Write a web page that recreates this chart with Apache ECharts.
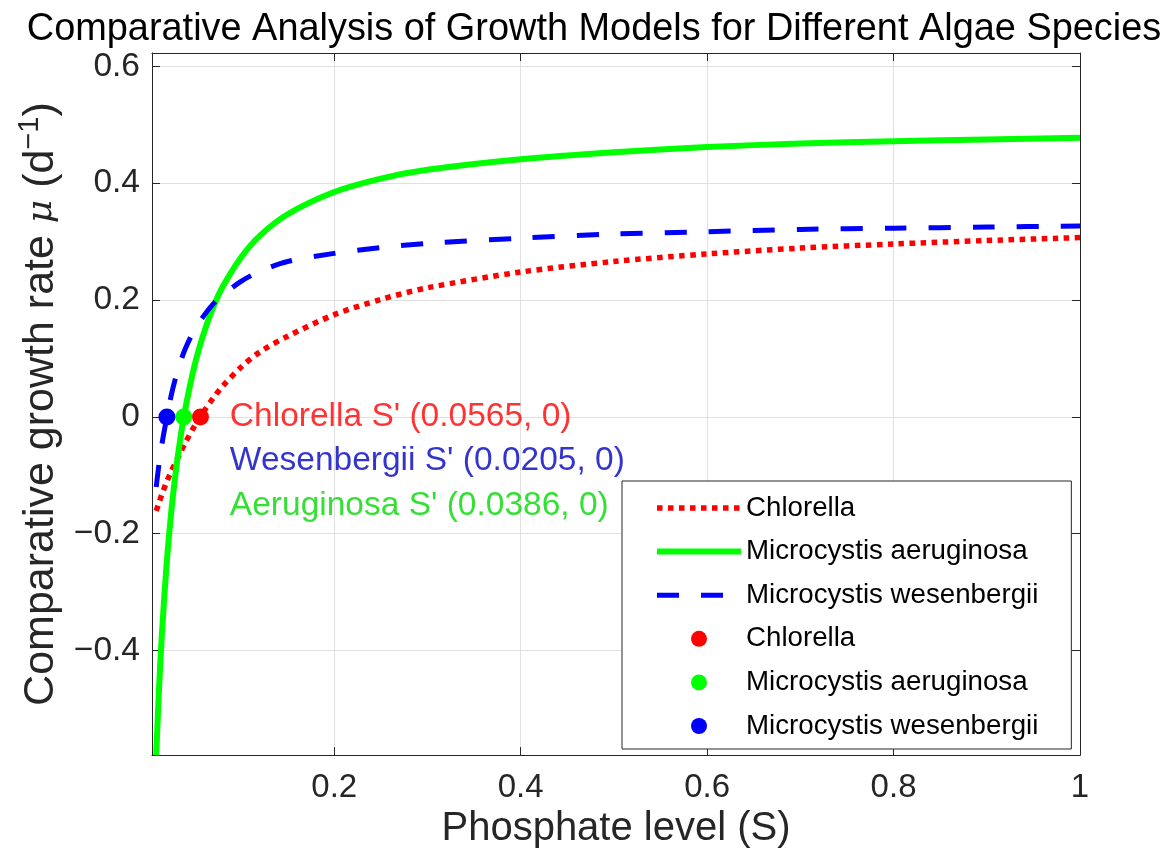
<!DOCTYPE html>
<html>
<head>
<meta charset="utf-8">
<script src="https://cdn.jsdelivr.net/npm/echarts@6/dist/echarts.min.js"></script>
<style>
html,body{margin:0;padding:0;background:#fff;}
#chart{width:1171px;height:854px;}
</style>
</head>
<body>
<div id="chart"></div>
<script>
// Phosphate level S (x values)
const S = [0.009, 0.012, 0.015, 0.02, 0.025, 0.03, 0.035, 0.04, 0.05, 0.06, 0.07, 0.08, 0.1, 0.12, 0.15, 0.2, 0.25, 0.3, 0.4, 0.5, 0.6, 0.7, 0.8, 0.9, 1.0];
// Comparative growth rate
const chlorella = [-0.161, -0.147, -0.133, -0.112, -0.094, -0.077, -0.061, -0.045, -0.016, 0.009, 0.032, 0.052, 0.085, 0.111, 0.138, 0.175, 0.201, 0.221, 0.248, 0.266, 0.279, 0.289, 0.296, 0.302, 0.307];
const aeruginosa = [-0.579, -0.467, -0.375, -0.256, -0.165, -0.094, -0.036, 0.012, 0.087, 0.143, 0.187, 0.222, 0.273, 0.31, 0.347, 0.385, 0.408, 0.423, 0.441, 0.453, 0.462, 0.468, 0.472, 0.475, 0.478];
const wesenbergii = [-0.120, -0.081, -0.048, -0.004, 0.036, 0.068, 0.094, 0.116, 0.149, 0.173, 0.193, 0.208, 0.232, 0.249, 0.266, 0.280, 0.290, 0.297, 0.306, 0.313, 0.317, 0.321, 0.323, 0.325, 0.327];
// Threshold points S'
const thresholdNames = ['Chlorella', 'Microcystis aeruginosa', 'Microcystis wesenbergii'];
const thresholdS = [0.0565, 0.0386, 0.0205];
const thresholdMu = [0, 0, 0];
// Annotations
const annotTexts = ["Chlorella S' (0.0565, 0)", "Wesenbergii S' (0.0205, 0)", "Aeruginosa S' (0.0386, 0)"];
const annotX = [0.0875, 0.0875, 0.0875];
const annotY = [0, -0.075, -0.152];
const annotColors = ['#ff0000', '#0000c0', '#00d800'];
// Axis ranges
const xMin = 0.0045, xMax = 1.0;
const yMin = -0.579, yMax = 0.623;

const FONT = 'Liberation Sans, Arial, Helvetica, sans-serif';
const AX = '#262626';

function fmt(v) {
  const k = Math.round(v / 0.2);
  if (Math.abs(v - k * 0.2) > 1e-6) return '';
  const r = Math.round(k * 0.2 * 10) / 10;
  if (r === 0) return '0';
  const s = String(Math.abs(r));
  return r < 0 ? '\u2212' + s : s;
}

const pairs = (ys) => S.map((x, i) => [x, ys[i]]);

const chart = echarts.init(document.getElementById('chart'), null, {renderer: 'canvas'});
const hiddenDot = {opacity: 0};
const option = {
  animation: false,
  backgroundColor: '#fff',
  title: {
    text: 'Comparative Analysis of Growth Models for Different Algae Species',
    left: 589, top: 5, textAlign: 'center',
    textStyle: {fontFamily: FONT, fontSize: 37.9, fontWeight: 'normal', color: '#000', lineHeight: 40}
  },
  grid: {left: 152, right: 91, top: 53, bottom: 95, containLabel: false},
  legend: {
    orient: 'vertical',
    left: 622, top: 481,
    padding: [12, 33, 8, 32],
    itemWidth: 84, itemHeight: 16, itemGap: 13.6,
    borderColor: AX, borderWidth: 1, backgroundColor: '#fff',
    selectedMode: false,
    lineStyle: {width: 'inherit'},
    textStyle: {fontFamily: FONT, fontSize: 27.7, color: '#000', lineHeight: 30},
    formatter: (n) => n.trim(),
    data: [
      {name: 'Chlorella', itemStyle: hiddenDot},
      {name: 'Microcystis aeruginosa', itemStyle: hiddenDot},
      {name: 'Microcystis wesenbergii', itemStyle: hiddenDot},
      {name: 'Chlorella ', icon: 'circle'},
      {name: 'Microcystis aeruginosa ', icon: 'circle'},
      {name: 'Microcystis wesenbergii ', icon: 'circle'}
    ]
  },
  xAxis: [{
    type: 'value', min: xMin, max: xMax, position: 'bottom',
    axisLine: {show: true, onZero: false, lineStyle: {color: AX, width: 1}},
    axisTick: {show: true, inside: true, length: 8, lineStyle: {color: AX}},
    axisLabel: {formatter: fmt, fontFamily: FONT, fontSize: 33, color: AX, margin: 16},
    splitLine: {show: true, lineStyle: {color: '#e0e0e0', width: 1}},
    name: 'Phosphate level (S)', nameLocation: 'middle', nameGap: 48,
    nameTextStyle: {fontFamily: FONT, fontSize: 40, color: AX}
  }, {
    type: 'value', min: xMin, max: xMax, position: 'top',
    axisLine: {show: true, onZero: false, lineStyle: {color: AX, width: 1}},
    axisTick: {show: true, inside: true, length: 8, lineStyle: {color: AX}},
    axisLabel: {show: false}, splitLine: {show: false}
  }],
  yAxis: [{
    type: 'value', min: yMin, max: yMax, position: 'left',
    axisLine: {show: true, onZero: false, lineStyle: {color: AX, width: 1}},
    axisTick: {show: true, inside: true, length: 8, lineStyle: {color: AX}},
    axisLabel: {formatter: fmt, fontFamily: FONT, fontSize: 33.5, color: AX, margin: 12},
    splitLine: {show: true, lineStyle: {color: '#e0e0e0', width: 1}},
    name: '{a|Comparative growth rate }{i|\u03bc}{a| (d}{s|\u22121}{a|)}',
    nameLocation: 'middle', nameGap: 81,
    nameTextStyle: {
      fontFamily: FONT, fontSize: 43, color: AX,
      rich: {
        a: {fontFamily: FONT, fontSize: 43, color: AX, lineHeight: 52},
        i: {fontFamily: 'DejaVu Serif, Liberation Serif, serif', fontStyle: 'italic', fontSize: 36, color: AX, lineHeight: 52},
        s: {fontFamily: FONT, fontSize: 29, color: AX, verticalAlign: 'top', lineHeight: 52}
      }
    }
  }, {
    type: 'value', min: yMin, max: yMax, position: 'right',
    axisLine: {show: true, onZero: false, lineStyle: {color: AX, width: 1}},
    axisTick: {show: true, inside: true, length: 8, lineStyle: {color: AX}},
    axisLabel: {show: false}, splitLine: {show: false}
  }],
  series: [
    {
      name: 'Chlorella', type: 'line', data: pairs(chlorella), symbol: 'none', smooth: 0.3,
      lineStyle: {color: '#ff0000', width: 5.5, type: [5.5, 5.5], cap: 'butt'}, itemStyle: {color: '#ff0000'}, z: 3
    },
    {
      name: 'Microcystis aeruginosa', type: 'line', data: pairs(aeruginosa), symbol: 'none', smooth: 0.3,
      lineStyle: {color: '#00ff00', width: 6, type: 'solid'}, itemStyle: {color: '#00ff00'}, z: 3
    },
    {
      name: 'Microcystis wesenbergii', type: 'line', data: pairs(wesenbergii), symbol: 'none', smooth: 0.3,
      lineStyle: {color: '#0000ff', width: 5, type: [22, 22], cap: 'butt'}, itemStyle: {color: '#0000ff'}, z: 3
    },
    {
      name: 'Chlorella ', type: 'scatter', data: [[thresholdS[0], thresholdMu[0]]], symbol: 'circle', symbolSize: 17,
      itemStyle: {color: '#ff0000', opacity: 1}, z: 5
    },
    {
      name: 'Microcystis aeruginosa ', type: 'scatter', data: [[thresholdS[1], thresholdMu[1]]], symbol: 'circle', symbolSize: 17,
      itemStyle: {color: '#00ff00', opacity: 1}, z: 5
    },
    {
      name: 'Microcystis wesenbergii ', type: 'scatter', data: [[thresholdS[2], thresholdMu[2]]], symbol: 'circle', symbolSize: 17,
      itemStyle: {color: '#0000ff', opacity: 1}, z: 5
    },
    {
      name: 'annotations', type: 'scatter', silent: true, symbolSize: 1,
      itemStyle: {color: 'rgba(0,0,0,0)'},
      data: annotX.map((x, i) => ({value: [x, annotY[i]], name: annotTexts[i],
        label: {color: annotColors[i]}})),
      label: {show: true, position: 'right', distance: 0, formatter: '{b}', fontFamily: FONT, fontSize: 33.5},
      z: 6
    }
  ]
};
chart.setOption(option);
</script>
</body>
</html>
